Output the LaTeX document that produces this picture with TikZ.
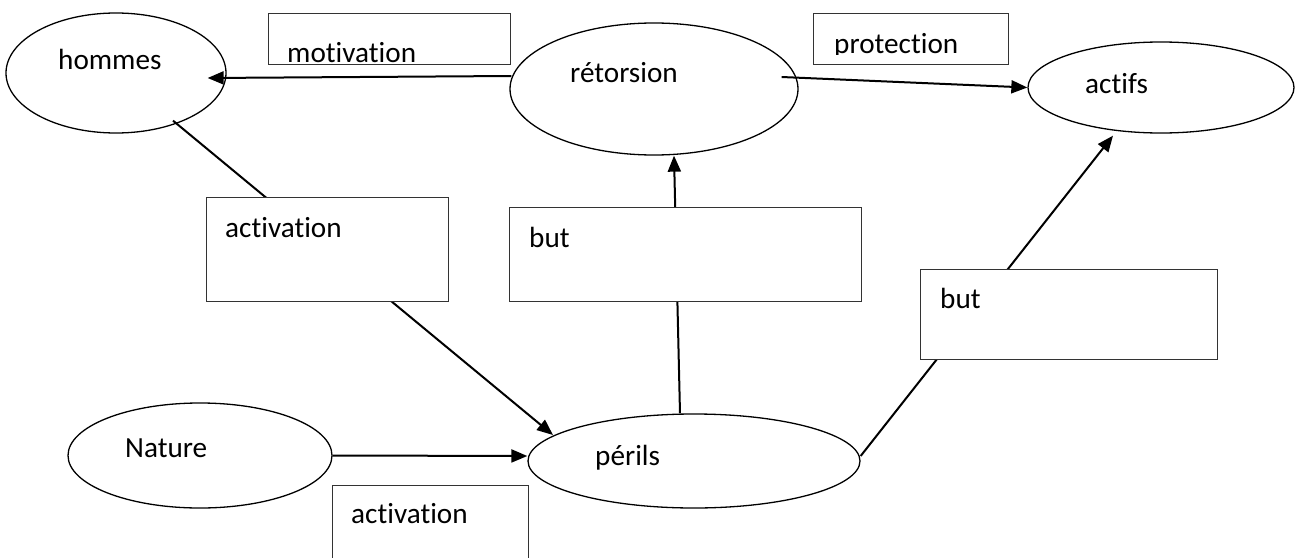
\documentclass[tikz,border=0pt]{standalone}
\usepackage{fontspec}
\setmainfont{Carlito}[Ligatures=NoCommon]
\usetikzlibrary{shapes.geometric,arrows.meta,calc}
\begin{document}
\begin{tikzpicture}[x=1pt,y=-1pt,
  oval/.style={draw=black,line width=1.3pt,ellipse,inner sep=0pt},
  labbox/.style={draw=black!80,fill=white,line width=1pt,rectangle,inner sep=0pt},
  txt/.style={anchor=base west,inner sep=0pt,font=\fontsize{29.2}{35}\selectfont},
  conn/.style={line width=2pt,black},
  arr/.style={conn,-{Triangle[length=16pt,width=13pt]}}]
\path[use as bounding box,clip] (0,0) rectangle (1296,557);

% ellipses
\node[oval,minimum width=220pt,minimum height=120pt] (hommes)    at (116,73)    {};
\node[oval,minimum width=288pt,minimum height=132pt] (retorsion) at (654,89)    {};
\node[oval,minimum width=266pt,minimum height=91pt]  (actifs)    at (1161,87.5) {};
\node[oval,minimum width=264pt,minimum height=105pt] (nature)    at (200,455.5) {};
\node[oval,minimum width=332pt,minimum height=94pt]  (perils)    at (694,461)   {};

% texts of the ellipses
\node[txt] (hommes-t)    at (58,69)   {hommes};
\node[txt] (retorsion-t) at (570,82)  {rétorsion};
\node[txt] (actifs-t)    at (1085,93) {actifs};
\node[txt] (nature-t)    at (125,457) {Nature};
\node[txt] (perils-t)    at (595,465) {périls};

% connectors
\draw[arr]  ([shift={(2,-13)}]retorsion.west) -- ([shift={(-19,5)}]hommes.east);
\draw[arr]  ([shift={(-17,-12)}]retorsion.east) -- (actifs.west);
\draw[arr]  ([shift={(57,-13)}]hommes.south) -- ([shift={(-141,-26)}]perils.center);
\draw[arr]  (nature.east) -- ([shift={(0,-5)}]perils.west);
\draw[arr]  ([shift={(-14,0)}]perils.north) -- ([shift={(20,0)}]retorsion.south);
\draw[arr]  ([shift={(0,-5)}]perils.east) -- ([shift={(-48,2)}]actifs.south);

% label boxes, drawn over the connectors
\node[labbox,minimum width=242pt,minimum height=51pt]  (b-motiv) at (389,38.5)  {};
\node[labbox,minimum width=195pt,minimum height=51pt]  (b-prot)  at (910.5,38.5) {};
\node[labbox,minimum width=242pt,minimum height=104pt] (b-act1)  at (327,249)   {};
\node[labbox,minimum width=352pt,minimum height=94pt]  (b-but1)  at (685,254)   {};
\node[labbox,minimum width=297pt,minimum height=90pt]  (b-but2)  at (1068.5,314) {};
\node[labbox,minimum width=196pt,minimum height=100pt] (b-act2)  at (430,535)   {};

\node[txt] (motiv-t) at (287,62)  {motivation};
% the text area of this box cuts off the descender
\begin{scope}
  \clip ([shift={(1,1)}]b-prot.north west) rectangle ([shift={(-1,-10)}]b-prot.south east);
  \node[txt] (prot-t)  at (834,53)  {protection};
\end{scope}
\node[txt] (act1-t)  at (225,237) {activation};
\node[txt] (but1-t)  at (529,247) {but};
\node[txt] (but2-t)  at (940,308) {but};
\node[txt] (act2-t)  at (351,523) {activation};
\end{tikzpicture}
\end{document}
